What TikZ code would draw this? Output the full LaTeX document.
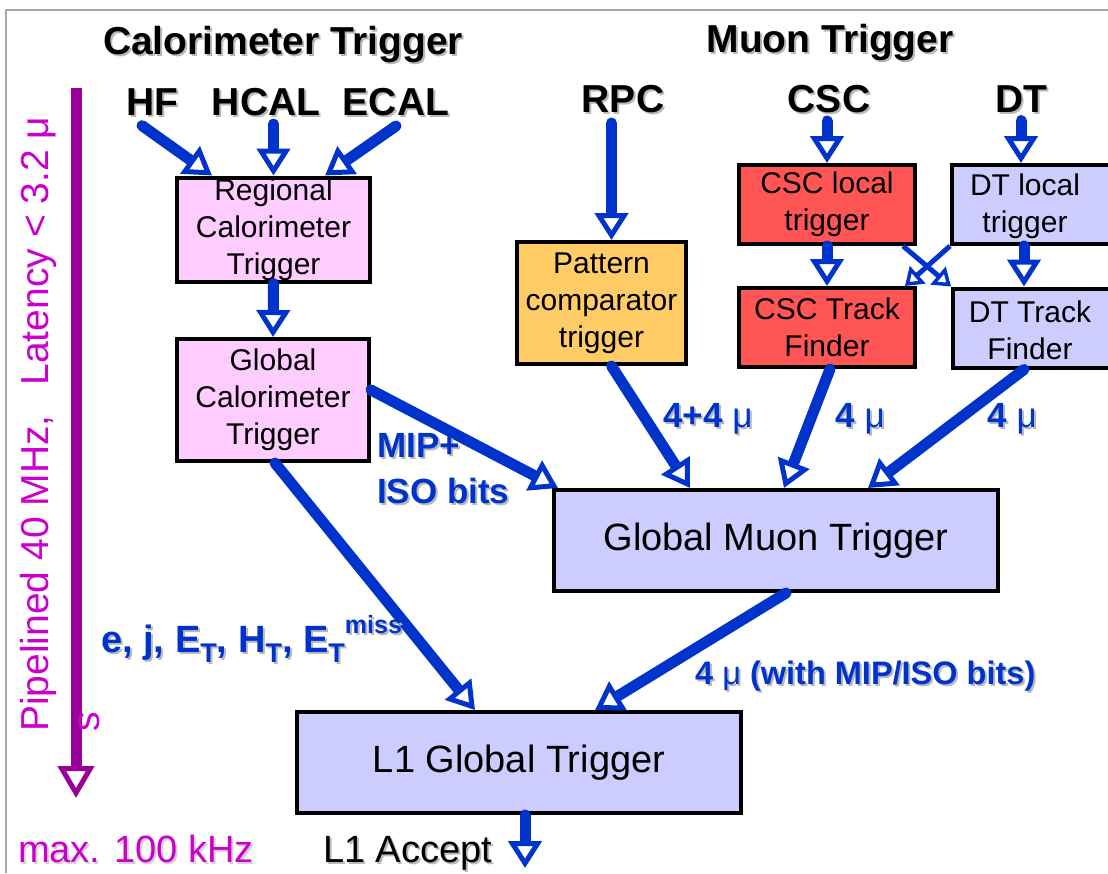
\documentclass[tikz,border=0pt]{standalone}
\usepackage{fontspec}
\setmainfont{Liberation Sans}
\usetikzlibrary{arrows.meta}
\definecolor{arrowblue}{RGB}{0,51,204}
\definecolor{calpink}{RGB}{255,204,255}
\definecolor{rpcorange}{RGB}{255,204,102}
\definecolor{cscred}{RGB}{255,85,85}
\definecolor{dtlav}{RGB}{204,204,255}
\definecolor{latpurple}{RGB}{153,0,153}
\definecolor{magtext}{RGB}{204,0,204}
\newcommand\shd[2][gray!55]{\makebox[0pt][l]{\kern2pt\raisebox{-2pt}{\color{#1}#2}}#2}
\newcommand\lsub[1]{\raisebox{-0.28em}{\fontsize{27}{27}\selectfont #1}}
\newcommand\lsup[1]{\raisebox{0.5em}{\fontsize{25}{25}\selectfont #1}}
\begin{document}
\begin{tikzpicture}[x=1pt,y=-1pt,
  box/.style={draw=black, line width=4pt, align=center, inner sep=0pt, font=\fontsize{30}{37}\selectfont},
  boxtext/.style={align=center, inner sep=0pt, font=\fontsize{30}{37}\selectfont},
  bigbox/.style={draw=black, line width=4pt, inner sep=0pt, font=\fontsize{38}{44}\selectfont},
  title/.style={inner sep=0pt, font=\bfseries\fontsize{39}{44}\selectfont},
  lbl/.style={inner sep=0pt, text=arrowblue, font=\bfseries\fontsize{35}{46}\selectfont},
  flow/.style={draw=arrowblue, line width=11pt, line cap=round, -{Triangle[length=27pt,width=33pt,line width=5pt,fill=white]}},
  crossflow/.style={draw=arrowblue, line width=5pt, -{Triangle[length=17pt,width=23pt,line width=3.5pt,fill=white]}},
  latency/.style={draw=latpurple, line width=11pt, -{Triangle[length=32pt,width=36pt,line width=5pt,fill=white]}}
]
\useasboundingbox (0,0) rectangle (1108,873);
\draw[gray!70, line width=1.5pt] (6,873) -- (6,10) -- (1108,10);

% titles and sources
\node[title] (caltitle) at (283,45) {\shd{Calorimeter Trigger}};
\node[title] (muontitle) at (830,43) {\shd{Muon Trigger}};
\node[title] (hf) at (152,103) {\shd{HF}};
\node[title] (hcal) at (266,103) {\shd{HCAL}};
\node[title] (ecal) at (396,103) {\shd{ECAL}};
\node[title] (rpc) at (623,100) {\shd{RPC}};
\node[title] (csc) at (829,100) {\shd{CSC}};
\node[title] (dt) at (1021,100) {\shd{DT}};

% boxes
\node[box, fill=calpink, minimum width=193pt, minimum height=104pt] (rct) at (273.5,229.5) {Regional\\Calorimeter\\Trigger};
\node[box, fill=calpink, minimum width=192pt, minimum height=122pt] (gct) at (273,400) {Global\\Calorimeter\\Trigger};
\node[box, fill=rpcorange, minimum width=169pt, minimum height=122pt] (pct) at (601.5,303) {Pattern\\comparator\\trigger};
\node[box, fill=cscred, minimum width=176pt, minimum height=79pt] (cscl) at (827,204.5) {CSC local\\trigger};
\node[box, fill=cscred, minimum width=176pt, minimum height=79pt] (csctf) at (827,327.5) {CSC Track\\Finder};
\node[box, fill=dtlav, minimum width=200pt, minimum height=79pt, anchor=west] (dtl) at (950,204.5) {};
\node[boxtext] (dtltext) at (1025,206) {DT local\\trigger};
\node[box, fill=dtlav, minimum width=200pt, minimum height=79pt, anchor=west] (dttf) at (951,328) {};
\node[boxtext] (dttftext) at (1030,330) {DT Track\\Finder};
\node[bigbox, fill=dtlav, minimum width=444pt, minimum height=101pt] (gmt) at (776,540.5) {Global Muon Trigger};
\node[bigbox, fill=dtlav, minimum width=444pt, minimum height=101pt] (l1) at (519,762.5) {L1 Global Trigger};

% connectors
\draw[flow] ([xshift=-10pt,yshift=-8pt]hf.south) -- ([xshift=37pt]rct.north west);
\draw[flow] ([yshift=-6pt]rct.north |- hcal.south) -- (rct.north);
\draw[flow] ([yshift=-8pt]ecal.south) -- ([xshift=-47pt]rct.north east);
\draw[flow] (rct.south) -- (gct.north);
\draw[flow] ([yshift=10pt]gct.east) -- ([xshift=6pt]gmt.north west);
\draw[flow] ([xshift=2pt]gct.south) -- ([xshift=180pt]l1.north west);
\draw[flow] ([xshift=10pt,yshift=-8pt]pct.north |- rpc.south) -- ([xshift=10pt]pct.north);
\draw[flow] ([xshift=10pt]pct.south) -- ([xshift=138pt]gmt.north west);
\draw[flow] ([yshift=-6pt]cscl.north |- csc.south) -- (cscl.north);
\draw[flow] (cscl.south) -- (csctf.north);
\draw[flow] ([yshift=-6pt]dt.south) -- (dt.south |- dtl.north);
\draw[flow] ([xshift=74pt]dtl.south west) -- ([xshift=73pt]dttf.north west);
\draw[flow] ([xshift=3pt]csctf.south) -- ([xshift=232pt]gmt.north west);
\draw[flow] ([xshift=73pt]dttf.south west) -- ([xshift=316pt]gmt.north west);
\draw[flow] ([xshift=10pt]gmt.south) -- ([xshift=300pt]l1.north west);
\coordinate (acceptend) at (525,868);
\draw[flow] (l1.south -| acceptend) -- (acceptend);
\draw[crossflow] ([xshift=-14pt]cscl.south east) -- (dttf.north west);
\draw[crossflow] (dtl.south west) -- ([xshift=-12pt]csctf.north east);

% latency arrow
\coordinate (ptop) at (76,88);
\coordinate (pbot) at (76,798);
\draw[latency] (ptop) -- (pbot);
\node[rotate=90, anchor=base west, inner sep=0pt, text=magtext, font=\fontsize{39}{44}\selectfont] (lat) at (48,732) {Pipelined 40 MHz,\hspace{30pt}Latency < 3.2 μ};
\node[rotate=90, anchor=base west, inner sep=0pt, text=magtext, font=\fontsize{39}{44}\selectfont] (lats) at (99,732) {s};

% labels
\node[lbl] (l44) at (708,420) {\shd{4+4 {\mdseries μ}}};
\node[lbl] (l4a) at (860,420) {\shd{4 {\mdseries μ}}};
\node[lbl] (l4b) at (1012,420) {\shd{4 {\mdseries μ}}};
\node[lbl, align=left, anchor=west] (lmip) at (377,470) {\shd{MIP+}\\\shd{ISO bits}};
\node[lbl, anchor=base west, font=\bfseries\fontsize{38}{46}\selectfont] (lcal) at (101,652) {\shd{e, j, E\lsub{T}, H\lsub{T}, E\lsub{T}\lsup{miss}}};
\node[lbl, font=\bfseries\fontsize{32.5}{46}\selectfont, anchor=west] (lgmt) at (695,677) {\shd{4 {\mdseries μ} (with MIP/ISO bits)}};
\node[inner sep=0pt, anchor=base west, font=\fontsize{38}{44}\selectfont] (acc) at (323,862) {\shd{L1 Accept}};
\node[inner sep=0pt, anchor=base west, text=magtext, font=\fontsize{38}{44}\selectfont] (rate) at (18,862) {\shd[gray!35]{max. 100 kHz}};
\end{tikzpicture}
\end{document}
